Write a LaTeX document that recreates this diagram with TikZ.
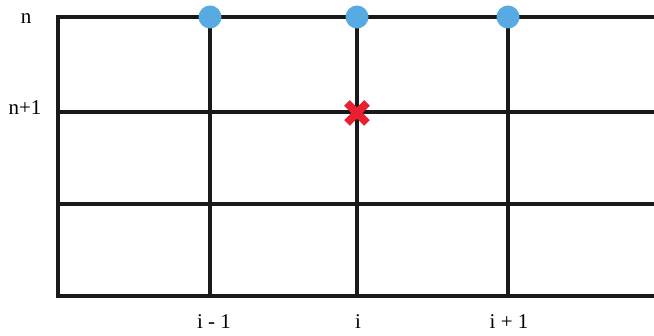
\documentclass[tikz,border=0pt]{standalone}
\usepackage{fontspec}
\setmainfont{Liberation Serif}
\usetikzlibrary{calc}
\definecolor{dotblue}{RGB}{88,170,226}
\definecolor{crossred}{RGB}{232,32,48}

\begin{document}
\begin{tikzpicture}[x=1pt,y=-1pt,
    gridline/.style={line width=3.2pt,black!90},
    dot/.style={circle,fill=dotblue,inner sep=0pt,minimum size=23pt},
    lbl/.style={font=\fontsize{21}{24}\selectfont,inner sep=0pt}]
           \useasboundingbox (0,0) rectangle (654,336);
           \coordinate (TL) at (58,17);
           \coordinate (BL) at (58,296);
           \coordinate (TR) at (654,17);
           \coordinate (BR) at (654,296);

           \draw[gridline] (TR) -- (TL) -- (BL) -- (BR);
           \draw[gridline] (58,112) -- (654,112);
           \draw[gridline] (58,204) -- (654,204);
           \foreach \x in {210,357,508}
             \draw[gridline] (\x,17) -- (\x,296);

           \node[dot] (P1) at (210,17) {};
           \node[dot] (P2) at (357,17) {};
           \node[dot] (P3) at (508,17) {};

           \node (X) at (357,113) {};
           \draw[crossred,line width=8pt] ($(X)+(-10,-10)$) -- ($(X)+(10,10)$);
           \draw[crossred,line width=8pt] ($(X)+(-10,10)$) -- ($(X)+(10,-10)$);

           \node[lbl] (n) at (26,19) {n};
           \node[lbl] (n1) at (25,108) {n+1};
           \node[lbl] (im) at (214,322) {i - 1};
           \node[lbl] (i) at (358,322) {i};
           \node[lbl] (ip) at (509,322) {i + 1};
         \end{tikzpicture}
\end{document}
